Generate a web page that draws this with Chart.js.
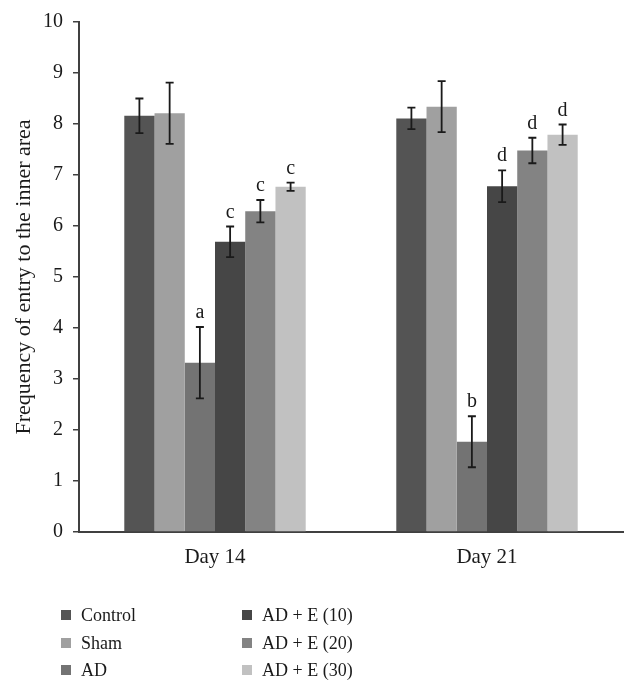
<!DOCTYPE html>
<html>
<head>
<meta charset="utf-8">
<script src="https://cdn.jsdelivr.net/npm/chart.js@4.4.1/dist/chart.umd.min.js"></script>
<style>
    html, body { margin: 0; padding: 0; background: #fff; }
    #quadro { position: relative; width: 637px; height: 692px; }
    #caixa-grafico { position: absolute; left: 0; top: 0; width: 637px; height: 570px; }
    #legenda { position: absolute; left: 0; top: 0; width: 637px; height: 692px; pointer-events: none; }
    .item-legenda {
        position: absolute; display: flex; align-items: center;
        font-family: 'Liberation Serif', serif; font-size: 18px; color: #1a1a1a; white-space: nowrap;
    }
    .marcador { width: 10px; height: 10px; margin-right: 10px; }
</style>
</head>
<body>
<div id="quadro">
    <div id="caixa-grafico"><canvas id="grafico"></canvas></div>
    <div id="legenda"></div>
</div>
<script>
const DIAS = ['Day 14', 'Day 21'];
const GRUPOS = ['Control', 'Sham', 'AD', 'AD + E (10)', 'AD + E (20)', 'AD + E (30)'];
const CORES = ['#545454', '#a0a0a0', '#737373', '#464646', '#838383', '#c1c1c1'];

// médias por grupo: [Day 14, Day 21]
const CONTROLE = [8.16, 8.11];
const SHAM = [8.21, 8.34];
const AD = [3.32, 1.77];
const AD_E10 = [5.69, 6.78];
const AD_E20 = [6.29, 7.48];
const AD_E30 = [6.77, 7.79];

// erro (±)
const ERRO_CONTROLE = [0.34, 0.21];
const ERRO_SHAM = [0.60, 0.50];
const ERRO_AD = [0.70, 0.50];
const ERRO_E10 = [0.30, 0.31];
const ERRO_E20 = [0.22, 0.25];
const ERRO_E30 = [0.08, 0.20];

// letras de significância
const LETRAS_AD = ['a', 'b'];
const LETRAS_E = ['c', 'd'];

const MEDIAS = [CONTROLE, SHAM, AD, AD_E10, AD_E20, AD_E30];
const ERROS = [ERRO_CONTROLE, ERRO_SHAM, ERRO_AD, ERRO_E10, ERRO_E20, ERRO_E30];
const LETRAS = [['', ''], ['', ''], LETRAS_AD, LETRAS_E, LETRAS_E, LETRAS_E];

const FONTE = 'Liberation Serif';
const COR_TEXTO = '#1a1a1a';
const COR_EIXO = '#404040';

const pluginErros = {
    id: 'barrasErro',
    afterDatasetsDraw(chart) {
        const ctx = chart.ctx;
        const y = chart.scales.y;
        ctx.save();
        ctx.strokeStyle = '#1a1a1a';
        ctx.lineWidth = 1.8;
        ctx.fillStyle = COR_TEXTO;
        ctx.font = `20px "${FONTE}"`;
        ctx.textAlign = 'center';
        ctx.textBaseline = 'alphabetic';
        MEDIAS.forEach((serie, i) => {
            const meta = chart.getDatasetMeta(i);
            serie.forEach((valor, j) => {
                const barra = meta.data[j];
                const topo = y.getPixelForValue(valor + ERROS[i][j]);
                const base = y.getPixelForValue(valor - ERROS[i][j]);
                ctx.beginPath();
                ctx.moveTo(barra.x, topo);
                ctx.lineTo(barra.x, base);
                ctx.moveTo(barra.x - 4, topo);
                ctx.lineTo(barra.x + 4, topo);
                ctx.moveTo(barra.x - 4, base);
                ctx.lineTo(barra.x + 4, base);
                ctx.stroke();
                if (LETRAS[i][j]) {
                    ctx.fillText(LETRAS[i][j], barra.x, topo - 9);
                }
            });
        });
        ctx.restore();
    },
};

new Chart(document.getElementById('grafico'), {
    type: 'bar',
    data: {
        labels: DIAS,
        datasets: GRUPOS.map((nome, i) => ({
            label: nome,
            data: MEDIAS[i],
            backgroundColor: CORES[i],
            borderWidth: 0,
            categoryPercentage: 0.667,
            barPercentage: 1.0,
        })),
    },
    options: {
        responsive: true,
        maintainAspectRatio: false,
        animation: false,
        layout: { padding: { left: 0, right: 14, top: 21, bottom: 0 } },
        plugins: { legend: { display: false }, tooltip: { enabled: false } },
        scales: {
            x: {
                grid: { display: false },
                border: { color: COR_EIXO, width: 2 },
                ticks: { color: COR_TEXTO, font: { family: FONTE, size: 21 }, padding: 5 },
                afterFit(escala) { escala.height = 38; },
            },
            y: {
                min: 0,
                max: 10,
                title: {
                    display: true,
                    text: 'Frequency of entry to the inner area',
                    color: COR_TEXTO,
                    font: { family: FONTE, size: 22 },
                    padding: { top: 11, bottom: 0 },
                },
                ticks: { stepSize: 1, color: COR_TEXTO, font: { family: FONTE, size: 20 }, padding: 10 },
                grid: { drawOnChartArea: false, drawTicks: true, tickLength: 6, color: COR_EIXO, lineWidth: 1.5 },
                border: { color: COR_EIXO, width: 2 },
                afterFit(escala) { escala.width = 79; },
            },
        },
    },
    plugins: [pluginErros],
});

// legenda em duas colunas
const legendaEl = document.getElementById('legenda');
const POS_COLUNAS = [61, 242];
const POS_LINHAS = [615, 643, 670];
GRUPOS.forEach((nome, i) => {
    const item = document.createElement('div');
    item.className = 'item-legenda';
    item.style.left = POS_COLUNAS[Math.floor(i / 3)] + 'px';
    item.style.top = (POS_LINHAS[i % 3] - 12) + 'px';
    item.style.height = '24px';
    item.innerHTML = `<span class="marcador" style="background:${CORES[i]}"></span><span>${nome}</span>`;
    legendaEl.appendChild(item);
});
</script>
</body>
</html>
